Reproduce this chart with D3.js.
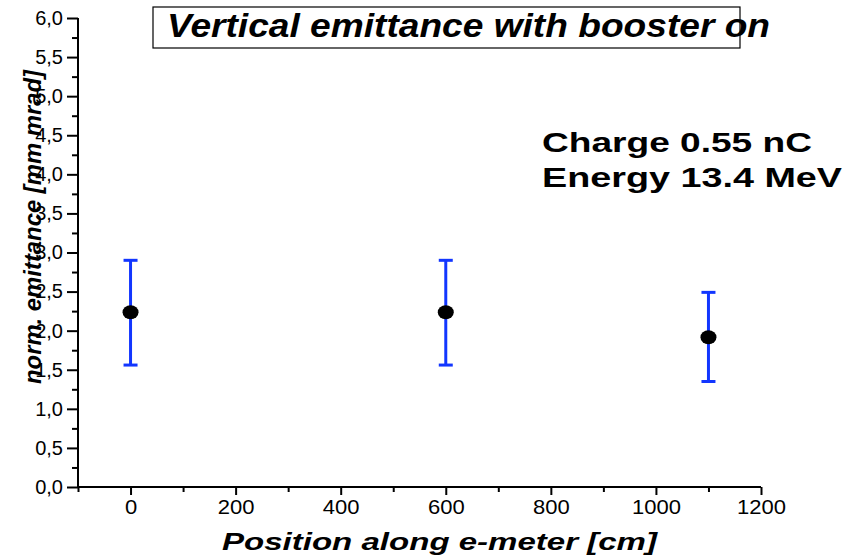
<!DOCTYPE html>
<html>
<head>
<meta charset="utf-8">
<script src="https://cdn.jsdelivr.net/npm/d3@7"></script>
<style>
  body { margin: 0; background: #fff; }
  svg { display: block; font-family: "Liberation Sans", Arial, sans-serif; }
</style>
</head>
<body>
<script>
const w = 856;
const h = 557;

// data
const positions = [0, 600, 1100];
const emittance = [2.235, 2.235, 1.915];
const errLow = [1.56, 1.56, 1.35];
const errHigh = [2.9, 2.9, 2.49];

const xMajor = [0, 200, 400, 600, 800, 1000, 1200];
const xMinor = [-100, 100, 300, 500, 700, 900, 1100];
const yMajor = [0, 0.5, 1, 1.5, 2, 2.5, 3, 3.5, 4, 4.5, 5, 5.5, 6];
const yMinor = [0.25, 0.75, 1.25, 1.75, 2.25, 2.75, 3.25, 3.75, 4.25, 4.75, 5.25, 5.75];

const titleText = 'Vertical emittance with booster on';
const xLabel = 'Position along e-meter [cm]';
const yLabel = 'norm. emittance [mm mrad]';
const notes = ['Charge 0.55 nC', 'Energy 13.4 MeV'];

const pl = 78, pr = 761, pt = 18, pb = 487;

const svg = d3.select('body').append('svg').attr('width', w).attr('height', h);

const x = d3.scaleLinear().domain([-100, 1200]).range([pl, pr]);
const y = d3.scaleLinear().domain([0, 6]).range([pb, pt]);

const fmt = d => d3.format('.1f')(d).replace('.', ',');

// the original fonts are a bit wider than Arial
function stretch(sel, k) {
  sel.each(function() {
    const len = this.getComputedTextLength();
    d3.select(this).attr('textLength', len * k).attr('lengthAdjust', 'spacingAndGlyphs');
  });
}

// y axis
const gy = svg.append('g').attr('transform', 'translate(' + pl + ',0)')
  .call(d3.axisLeft(y).tickValues(yMajor).tickFormat(fmt).tickSize(11).tickPadding(4));
svg.append('g').attr('transform', 'translate(' + pl + ',0)')
  .call(d3.axisLeft(y).tickValues(yMinor).tickFormat('').tickSize(6))
  .select('.domain').remove();

// x axis
const gx = svg.append('g').attr('transform', 'translate(0,' + pb + ')')
  .call(d3.axisBottom(x).tickValues(xMajor).tickFormat(d3.format('d')).tickSize(8).tickPadding(5));
svg.append('g').attr('transform', 'translate(0,' + pb + ')')
  .call(d3.axisBottom(x).tickValues(xMinor).tickFormat('').tickSize(5))
  .select('.domain').remove();

gy.select('.domain').remove();
gx.select('.domain').remove();
svg.append('line').attr('x1', pl).attr('x2', pl).attr('y1', y(6)).attr('y2', y(0))
  .attr('stroke', '#000').attr('stroke-width', 2);
svg.append('line').attr('x1', x(-100)).attr('x2', x(1200)).attr('y1', y(0)).attr('y2', y(0))
  .attr('stroke', '#000').attr('stroke-width', 2);

svg.selectAll('.tick line').attr('stroke', '#000').attr('stroke-width', 2);
svg.selectAll('.tick text').attr('font-size', 20).attr('fill', '#000')
  .attr('font-family', '"Liberation Sans", Arial, sans-serif');
stretch(gx.selectAll('.tick text'), 1.1);

// error bars
const pts = positions.map((p, i) => ({x: p, v: emittance[i], lo: errLow[i], hi: errHigh[i]}));
const blue = '#1236ff';
const eb = svg.append('g').selectAll('g').data(pts).enter().append('g');
eb.append('line').attr('x1', d => x(d.x)).attr('x2', d => x(d.x))
  .attr('y1', d => y(d.lo)).attr('y2', d => y(d.hi)).attr('stroke', blue).attr('stroke-width', 3);
eb.append('line').attr('x1', d => x(d.x) - 7).attr('x2', d => x(d.x) + 7)
  .attr('y1', d => y(d.hi)).attr('y2', d => y(d.hi)).attr('stroke', blue).attr('stroke-width', 3);
eb.append('line').attr('x1', d => x(d.x) - 7).attr('x2', d => x(d.x) + 7)
  .attr('y1', d => y(d.lo)).attr('y2', d => y(d.lo)).attr('stroke', blue).attr('stroke-width', 3);
eb.append('ellipse').attr('cx', d => x(d.x)).attr('cy', d => y(d.v))
  .attr('rx', 8).attr('ry', 7).attr('fill', '#000');

// title box
svg.append('rect').attr('x', 153).attr('y', 7).attr('width', 587).attr('height', 41)
  .attr('fill', 'none').attr('stroke', '#000').attr('stroke-width', 1.2);
svg.append('text').attr('x', 167).attr('y', 37).text(titleText)
  .attr('font-size', 33).attr('font-weight', 'bold').attr('font-style', 'italic')
  .attr('textLength', 603).attr('lengthAdjust', 'spacingAndGlyphs');

// notes
svg.selectAll('.note').data(notes).enter().append('text').attr('class', 'note')
  .attr('x', 542).attr('y', (d, i) => 152 + i * 35).text(d => d)
  .attr('font-size', 28).attr('font-weight', 'bold')
  .attr('textLength', (d, i) => i ? 300 : 270).attr('lengthAdjust', 'spacingAndGlyphs');

// axis titles
svg.append('text').attr('x', 222).attr('y', 550)
  .text(xLabel).attr('font-size', 24).attr('font-weight', 'bold').attr('font-style', 'italic')
  .attr('textLength', 435).attr('lengthAdjust', 'spacingAndGlyphs');
svg.append('text').attr('transform', 'translate(41,227) rotate(-90)').attr('text-anchor', 'middle')
  .text(yLabel).attr('font-size', 24).attr('font-weight', 'bold').attr('font-style', 'italic')
  .attr('textLength', 314).attr('lengthAdjust', 'spacingAndGlyphs');
</script>
</body>
</html>
